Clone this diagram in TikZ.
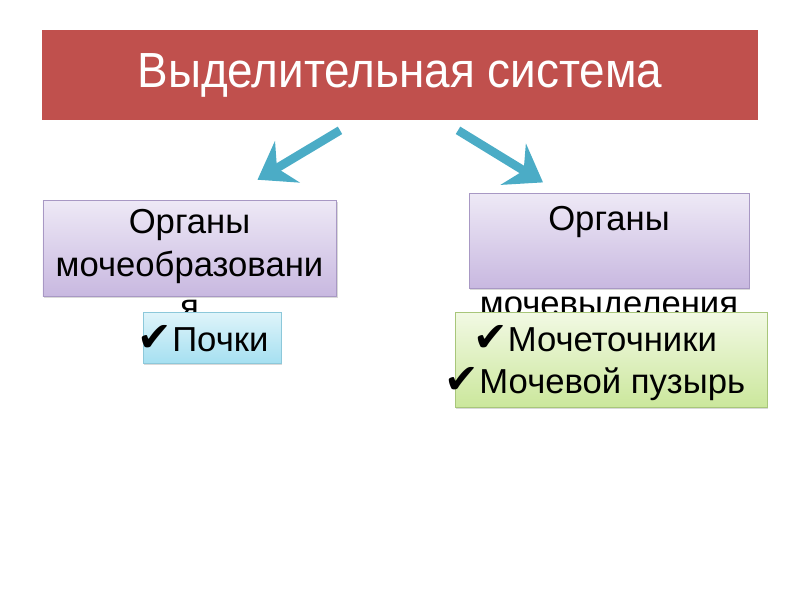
\documentclass[tikz,border=0pt]{standalone}
\usepackage{fontspec}
\setmainfont{Liberation Sans}
\newfontfamily\checkfont{DejaVu Sans}
\usetikzlibrary{arrows.meta,positioning,calc,shadows}
\definecolor{titlered}{HTML}{C0504D}
\definecolor{arrowteal}{HTML}{4BACC6}
\definecolor{lilactop}{HTML}{EEE9F6}
\definecolor{lilacbot}{HTML}{C8B8E0}
\definecolor{lilacline}{HTML}{A898C4}
\definecolor{skytop}{HTML}{DFF4FA}
\definecolor{skybot}{HTML}{A6E0F1}
\definecolor{skyline}{HTML}{8CC8DA}
\definecolor{limetop}{HTML}{F2F9E4}
\definecolor{limebot}{HTML}{CBE79C}
\definecolor{limeline}{HTML}{A8C67A}
\newcommand{\tick}{{\checkfont\fontsize{31}{31}\selectfont\char"2714}}

\begin{document}
\begin{tikzpicture}[x=0.75pt,y=-0.75pt,font=\fontsize{26}{32}\selectfont,
 soft/.style={drop shadow={shadow xshift=1pt,shadow yshift=-1.5pt,opacity=0.25,fill=black!60}},
 organ/.style={soft,draw=lilacline,top color=lilactop,bottom color=lilacbot,minimum height=71pt},
 item/.style={soft,draw=#1line,top color=#1top,bottom color=#1bot},
 fat/.style={draw=arrowteal,line width=6.5pt,-{Stealth[length=26pt,width=36pt,inset=9pt]}}]
\useasboundingbox (0,0) rectangle (800,600);
\node[soft,fill=titlered,draw=black!22,line width=0.5pt,double=white,double distance=2.5pt,
  minimum width=540pt,minimum height=70.5pt,text=white,font=\fontsize{37}{42}\selectfont]
  (title) at (400,75) {\scalebox{0.93}[1]{Выделительная система}};
% organs
\node[organ,minimum width=220pt,minimum height=72pt] (formbox) at (189.5,248) {};
\node[anchor=north,align=center] (formtext) at ($(formbox.north)+(0,5)$) {Органы\\мочеобразовани\\я};
\node[organ,minimum width=210pt] (excrbox) at (609,241) {};
\node[anchor=north,align=center] (excrtext) at ($(excrbox.north)+(0,8)$) {Органы\\[32pt]мочевыделения};
% items
\node[item=sky,minimum width=103.5pt,minimum height=38pt] (kidney) at (212,337.5) {};
\node (kidneytext) at (203,339) {\tick Почки};
\node[item=lime,minimum width=234pt,minimum height=71pt] (tracts) at (611,359.5) {};
\node[align=center] (tractstext) at (595,363) {\tick Мочеточники\\\tick Мочевой пузырь};
\draw[fat] ($(title.south)+(-60,8)$) -- ($(formbox.north)+(68,-20)$);
\draw[fat] ($(title.south)+(58,8)$) -- ($(excrbox.north)+(-66,-11)$);
\end{tikzpicture}
\end{document}
